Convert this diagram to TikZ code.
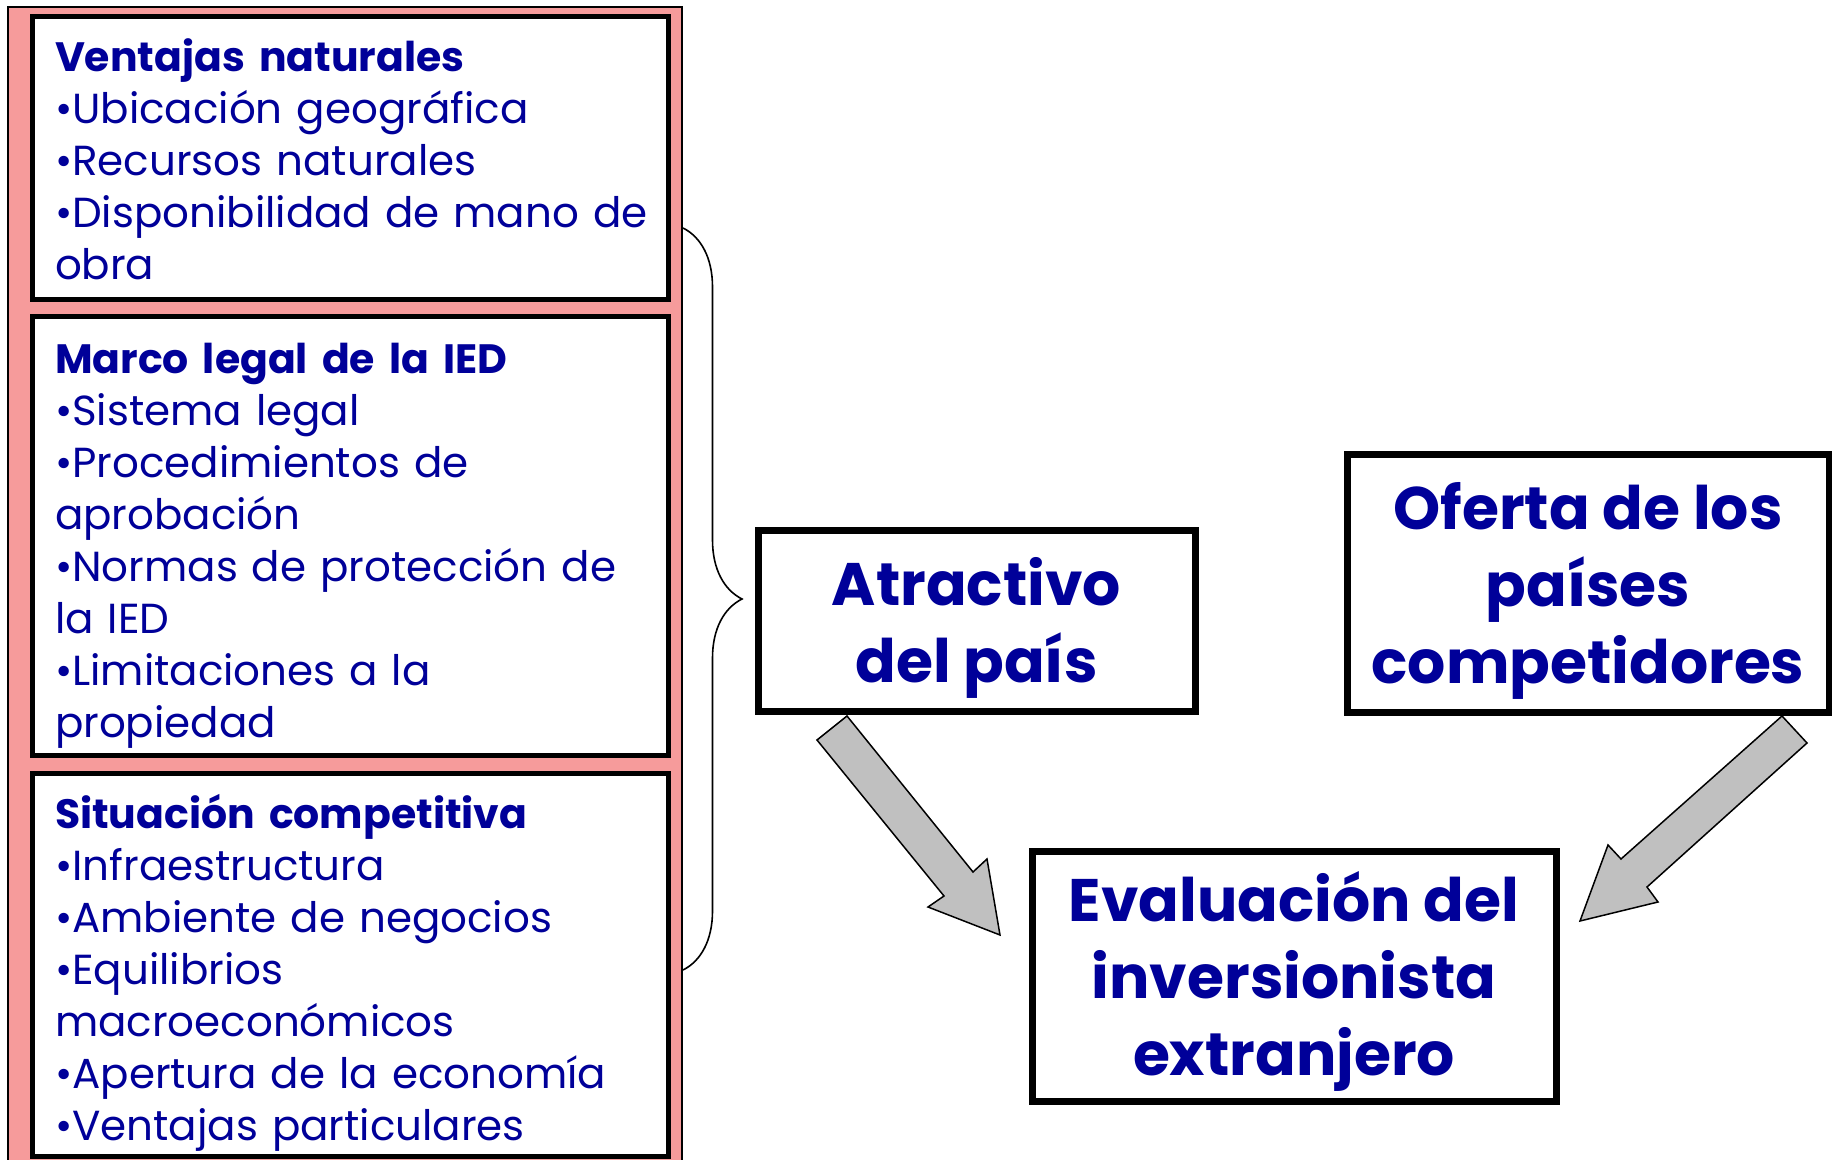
\documentclass[tikz,border=0pt]{standalone}
\usepackage{fontspec}
\setmainfont{Poppins}
\usetikzlibrary{decorations.pathreplacing}
\definecolor{txtblue}{RGB}{0,0,153}
\definecolor{bandpink}{RGB}{246,155,155}
\definecolor{arrowgray}{RGB}{192,192,192}
\newcommand{\boxtitle}[2][25pt]{\rule{0pt}{#1}{\bfseries\fontsize{20.5}{26}\selectfont #2}}
\newcommand{\bigfirst}{\rule{0pt}{30.5pt}}
\tikzset{
  factorbox/.style={draw, line width=2.5pt, fill=white, minimum width=318pt, text width=295pt,
    inner xsep=11.5pt, inner ysep=0pt, align=left, text=txtblue, font=\fontsize{21}{26}\selectfont},
  bigbox/.style={draw, line width=3.5pt, fill=white, align=center, inner sep=0pt, text=txtblue,
    font=\bfseries\fontsize{30}{38.5}\selectfont},
  blockarrow/.style={draw, line width=0.75pt, fill=arrowgray, line join=miter}
}
\begin{document}
\begin{tikzpicture}[x=0.5pt, y=-0.5pt]
\useasboundingbox (0,0) rectangle (1832,1160);
\fill[white] (0,0) rectangle (1832,1160);
% frame round the three factor boxes
\draw[line width=1pt, fill=bandpink] (8,7) rectangle (682,1190);
\node[factorbox, minimum height=141.5pt] (natural) at (350,158.5){\boxtitle[17pt]{Ventajas naturales}\\
  •Ubicación geográfica\\ •Recursos naturales\\ \mbox{•Disponibilidad de mano de}\\ obra};
\node[factorbox, minimum height=219pt] (legal) at (350,536){\boxtitle{Marco legal de la IED}\\
  •Sistema legal\\ •Procedimientos de\\ aprobación\\ \mbox{•Normas de protección de}\\ la IED\\
  •Limitaciones a la\\ propiedad};
\node[factorbox, minimum height=191.5pt] (compet) at (350,964.5){\boxtitle{Situación competitiva}\\
  •Infraestructura\\ •Ambiente de negocios\\ •Equilibrios\\ macroeconómicos\\
  \mbox{•Apertura de la economía}\\ •Ventajas particulares};
% brace and the three main boxes
\coordinate (bracetop) at (683,228);
\coordinate (bracebot) at (683,970);
\draw[line width=0.8pt, decorate, decoration={brace, amplitude=29.5pt}](bracetop) -- (bracebot);
\node[bigbox, minimum width=218.5pt, minimum height=90pt] (atractivo) at (976.5,621){\bigfirst Atractivo\\ del país};
\node[bigbox, minimum width=241pt, minimum height=128.5pt] (oferta) at (1588,583.5){\bigfirst Oferta de los\\ países\\ competidores};
\node[bigbox, minimum width=262pt, minimum height=125pt] (evaluacion) at (1294,976){\bigfirst Evaluación del\\ inversionista\\ extranjero};
% block arrows
\draw[blockarrow] (817,740) -- (944,896) -- (928,907) -- (1000,935) -- (987,859) -- (973,872) -- (847,716) -- cycle;
\draw[blockarrow] (1782,716) -- (1621,859) -- (1608,845) -- (1580,921) -- (1658,902) -- (1647,887) -- (1807,743) -- cycle;
\end{tikzpicture}
\end{document}
